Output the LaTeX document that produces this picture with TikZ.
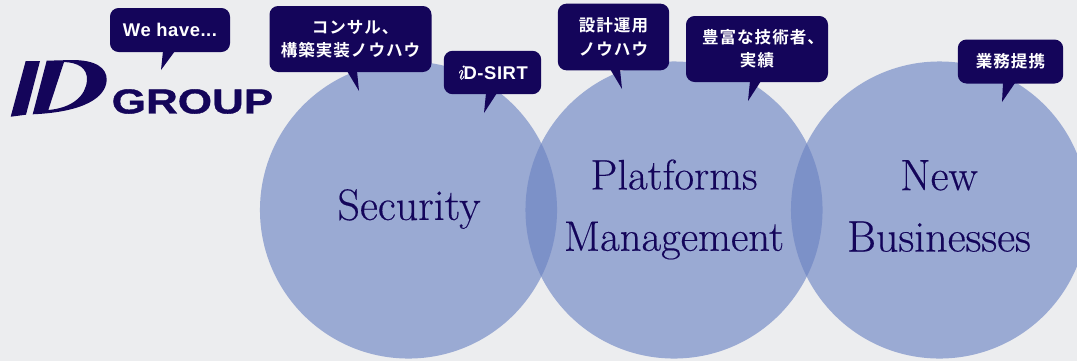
\documentclass[tikz,border=0pt]{standalone}
\usepackage{fontspec}
\newfontfamily\jpfont[LetterSpace=6]{Noto Sans CJK JP Bold}
\newfontfamily\latinfont[LetterSpace=3]{Liberation Sans Bold}
\newfontfamily\logofont[FakeStretch=1.27, FakeBold=1]{Liberation Sans Bold}
\newfontfamily\fieldfont[FakeBold=0.35]{Latin Modern Roman}
\definecolor{navy}{RGB}{20,5,90}
\definecolor{paper}{RGB}{236,237,239}
\definecolor{ringblue}{RGB}{107,131,195}
\tikzset{
    bubble/.style={fill=navy, rounded corners=6.5, inner sep=0pt, text=white, align=center},
    jpbubble/.style={bubble, font=\jpfont\fontsize{12.4}{17.5}\selectfont},
    enbubble/.style={bubble, font=\latinfont\fontsize{13.8}{16}\selectfont},
    ring/.style={fill=ringblue, fill opacity=0.63, draw=none},
    field/.style={text=navy, align=center, font=\fieldfont\fontsize{33}{46}\selectfont},
}
\begin{document}
\begin{tikzpicture}[x=0.75pt, y=-0.75pt]
    % Background and circles
    \fill[paper] (0,0) rectangle (1077,361);
    \clip (0,0) rectangle (1077,361);
    \fill[ring] (408.5,210) circle[radius=111.4pt];
    \fill[ring] (674,210) circle[radius=111.4pt];
    \fill[ring] (939.5,210) circle[radius=111.4pt];

    % Labels for the three fields
    \node[field] (security) at (409,209) {Security};
    \node[field, font=\fieldfont\fontsize{32}{46}\selectfont] (platforms) at (674,209.5) {Platforms\\Management};
    \node[field] (newbiz) at (939,206) {New\\Businesses};

    % Logo
    \fill[navy] (10.7,116.7) -- (25.7,61) -- (40,61) -- (26,114.7) -- cycle;
    \fill[navy, even odd rule] (32.7,114.3) -- (46.7,60.7) -- (72,60) .. controls (96,60) and (107,68) .. (106.7,80) .. controls (106,97) and (85,112) .. (32.7,114.3) -- cycle
        (48.3,110) .. controls (72,108) and (86,96) .. (87,80) .. controls (87.5,68) and (78,62.5) .. (64,62) -- cycle;
    \node[text=navy, inner sep=0pt, font=\logofont\fontsize{26}{26}\selectfont] (group) at (192.5,101.5) {GROUP};

    % Callouts
    \node[enbubble, minimum width=90pt, minimum height=33pt] (wehave) at (170,30) {We have...};
    \fill[navy] (163,51) -- (161,70) -- (175,51) -- cycle;

    \node[jpbubble, minimum width=121.5pt, minimum height=49.5pt] (consul) at (350.5,39) {\hspace*{7pt}コンサル、\\構築実装ノウハウ};
    \fill[navy] (347,71) -- (359,91) -- (357,71) -- cycle;

    \node[enbubble, minimum width=73pt, minimum height=32.5pt] (sirt) at (492.5,72.5) {{\fieldfont\itshape\fontsize{16}{16}\selectfont i}D-SIRT};
    \fill[navy] (486,93) -- (484,113) -- (497,93) -- cycle;

    \node[jpbubble, minimum width=83.5pt, minimum height=50pt] (design) at (613.5,37) {設計運用\\ノウハウ};
    \fill[navy] (610,69) -- (622,89) -- (620,69) -- cycle;

    \node[jpbubble, minimum width=106.5pt, minimum height=49.5pt] (staff) at (757,49) {\hspace*{9pt}豊富な技術者、\\実績};
    \fill[navy] (750,81) -- (748,101) -- (761,81) -- cycle;

    \node[jpbubble, minimum width=79pt, minimum height=33pt] (biz) at (1010.5,61.5) {業務提携};
    \fill[navy] (1003,83) -- (1002,102) -- (1015,83) -- cycle;
\end{tikzpicture}
\end{document}
